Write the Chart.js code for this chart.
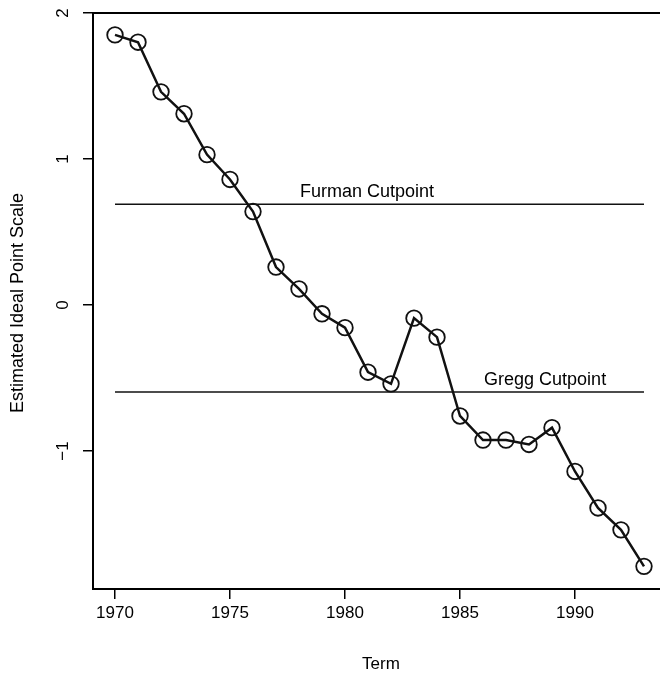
<!DOCTYPE html>
<html>
<head>
<meta charset="utf-8">
<script src="https://cdn.jsdelivr.net/npm/chart.js@4.4.1/dist/chart.umd.min.js"></script>
<style>
  html, body { margin: 0; padding: 0; background: #fff; overflow: hidden; }
  #chartTerm { display: block; }
</style>
</head>
<body>
<canvas id="chartTerm" width="660" height="673"></canvas>
<script>
// Datos
const terms = [1970, 1971, 1972, 1973, 1974, 1975, 1976, 1977, 1978, 1979, 1980, 1981,
               1982, 1983, 1984, 1985, 1986, 1987, 1988, 1989, 1990, 1991, 1992, 1993];
const idealPoints = [1.85, 1.80, 1.46, 1.31, 1.03, 0.86, 0.64, 0.26, 0.11, -0.06, -0.155, -0.46,
                     -0.54, -0.09, -0.22, -0.76, -0.925, -0.925, -0.955, -0.84, -1.14, -1.39, -1.54, -1.79];
const xTicks = [1970, 1975, 1980, 1985, 1990];
const yTicks = [-1, 0, 1, 2];
const yTickLabels = ["\u22121", "0", "1", "2"];
const cutpointNames = ["Furman Cutpoint", "Gregg Cutpoint"];
const cutpointValues = [0.69, -0.595];
const cutpointSpan = [1970, 1993];
const cutpointLabelX = [1980.96, 1988.7];

const FONT = "'Liberation Sans', Arial, Helvetica, sans-serif";

// el marco llega hasta el borde derecho: sin margen extra por los puntos
Chart.registry.getController("line").prototype.getMaxOverflow = function () { return 0; };

// Lineas horizontales de los cutpoints
const cutDatasets = cutpointValues.map((v, i) => ({
    label: cutpointNames[i],
    data: cutpointSpan.map(x => ({ x: x, y: v })),
    borderColor: "#111",
    borderWidth: 1.5,
    pointRadius: 0,
    fill: false
}));

// Plugin para textos al estilo R
const rStyle = {
    id: "rStyle",
    afterDraw(chart) {
        const ctx = chart.ctx;
        const area = chart.chartArea;
        const xs = chart.scales.x, ys = chart.scales.y;
        ctx.save();
        // linea superior del marco
        ctx.strokeStyle = "#000";
        ctx.lineWidth = 2;
        ctx.beginPath();
        ctx.moveTo(area.left - 1, area.top);
        ctx.lineTo(area.right, area.top);
        ctx.stroke();

        ctx.fillStyle = "#000";
        ctx.font = "17px " + FONT;
        ctx.textAlign = "center";
        ctx.textBaseline = "middle";
        // etiquetas del eje y, rotadas
        yTicks.forEach((v, i) => {
            ctx.save();
            ctx.translate(63, ys.getPixelForValue(v));
            ctx.rotate(-Math.PI / 2);
            ctx.fillText(yTickLabels[i], 0, 0);
            ctx.restore();
        });
        // titulos de los ejes
        ctx.fillText("Term", 381, 664);
        ctx.font = "18px " + FONT;
        ctx.save();
        ctx.translate(18, 303);
        ctx.rotate(-Math.PI / 2);
        ctx.fillText("Estimated Ideal Point Scale", 0, 0);
        ctx.restore();
        // textos de los cutpoints
        cutpointNames.forEach((name, i) => {
            ctx.fillText(name, xs.getPixelForValue(cutpointLabelX[i]),
                         ys.getPixelForValue(cutpointValues[i]) - 12);
        });
        ctx.restore();
    }
};

var ctxTerm = document.getElementById("chartTerm").getContext("2d");
var chartTerm = new Chart(ctxTerm, {
    type: "line",
    data: {
        datasets: [{
            label: "Ideal point",
            data: terms.map((t, i) => ({ x: t, y: idealPoints[i] })),
            borderColor: "#111",
            borderWidth: 2.5,
            pointRadius: 7.8,
            pointBorderWidth: 1.8,
            pointBackgroundColor: "rgba(0,0,0,0)",
            pointBorderColor: "#111",
            fill: false,
            tension: 0
        }].concat(cutDatasets)
    },
    options: {
        responsive: false,
        animation: false,
        devicePixelRatio: 1,
        layout: { padding: { top: 13, right: 0, left: 0, bottom: 0 } },
        plugins: {
            legend: { display: false },
            tooltip: { enabled: false }
        },
        scales: {
            x: {
                type: "linear",
                min: 1969.043,
                max: 1993.696,
                afterBuildTicks: scale => { scale.ticks = xTicks.map(v => ({ value: v })); },
                afterFit: scale => { scale.height = 84; scale.paddingLeft = 0; scale.paddingRight = 0; },
                grid: { display: true, drawOnChartArea: false, drawTicks: true, tickLength: 10, color: "#000", lineWidth: 1.5 },
                border: { display: true, color: "#000", width: 2 },
                ticks: {
                    color: "#000",
                    font: { family: FONT, size: 17 },
                    padding: 4,
                    maxRotation: 0,
                    callback: v => String(v)
                }
            },
            y: {
                type: "linear",
                min: -1.945,
                max: 2,
                afterBuildTicks: scale => { scale.ticks = yTicks.map(v => ({ value: v })); },
                afterFit: scale => { scale.width = 93; scale.paddingTop = 0; scale.paddingBottom = 0; },
                grid: { display: true, drawOnChartArea: false, drawTicks: true, tickLength: 10, color: "#000", lineWidth: 1.5 },
                border: { display: true, color: "#000", width: 2 },
                ticks: { color: "rgba(0,0,0,0)", font: { family: FONT, size: 17 } }
            }
        }
    },
    plugins: [rStyle]
});
</script>
</body>
</html>
